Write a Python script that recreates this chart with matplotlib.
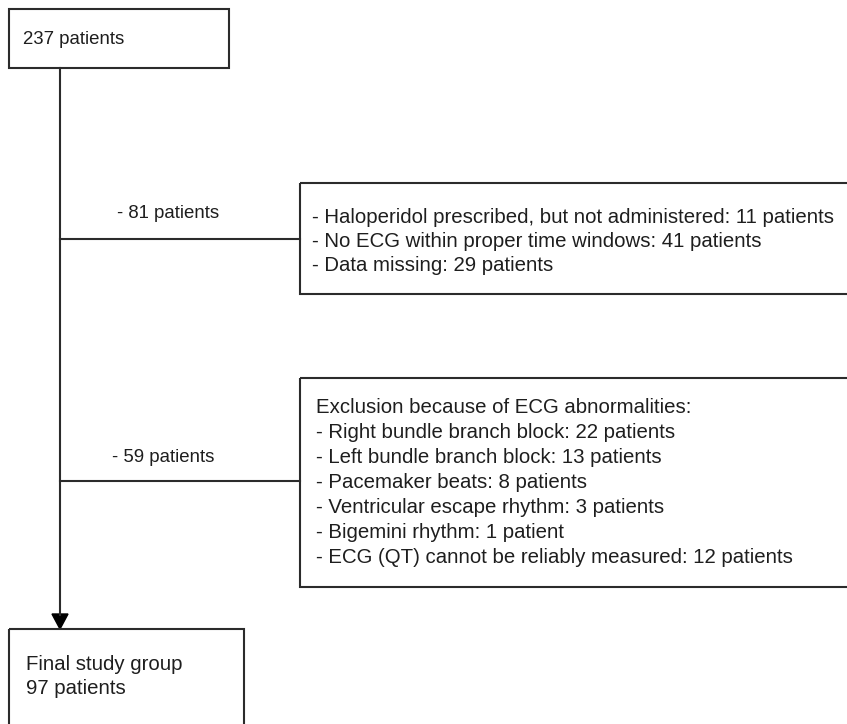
import matplotlib.pyplot as plt
from matplotlib.patches import Rectangle, Polygon

plt.rcParams['font.family'] = ['Liberation Sans', 'DejaVu Sans']

start_label = '237 patients'
final_labels = ['Final study group', '97 patients']
removed_labels = ['- 81 patients', '- 59 patients']
excl1_lines = ['- Haloperidol prescribed, but not administered: 11 patients',
               '- No ECG within proper time windows: 41 patients',
               '- Data missing: 29 patients']
excl2_lines = ['Exclusion because of ECG abnormalities:',
               '- Right bundle branch block: 22 patients',
               '- Left bundle branch block: 13 patients',
               '- Pacemaker beats: 8 patients',
               '- Ventricular escape rhythm: 3 patients',
               '- Bigemini rhythm: 1 patient',
               '- ECG (QT) cannot be reliably measured: 12 patients']

W, H = 847, 724
fig = plt.figure(figsize=(W / 100, H / 100), dpi=100)
ax = fig.add_axes([0, 0, 1, 1])
ax.set_xlim(0, W)
ax.set_ylim(H, 0)
ax.axis('off')

ec = '#2b2b2b'
tc = '#1e1e1e'
fs_small = 13.4
fs = 14.7
lw = 1.5


def box(x0, y0, x1, y1):
    ax.add_patch(Rectangle((x0, y0), x1 - x0, y1 - y0, fill=False,
                           ec=ec, lw=lw, clip_on=False))


def lines(x, yc, items, step):
    # yc is the visual middle of the block; place lines on baselines
    n = len(items)
    for i, s in enumerate(items):
        y = yc + (i - (n - 1) / 2) * step + 7
        ax.text(x, y, s, fontsize=fs, color=tc, ha='left', va='baseline')


# top box
box(9, 9, 229, 68)
ax.text(23, 40, start_label, fontsize=fs_small, color=tc, va='center')

# main vertical line with arrow
spine_x = 60
ax.plot([spine_x, spine_x], [68, 615], color=ec, lw=lw)
ax.add_patch(Polygon([[spine_x - 8, 614], [spine_x + 8, 614], [spine_x, 629]],
                     closed=True, fc='black', ec='black'))

# first exclusion
y1 = 239
ax.plot([spine_x, 300], [y1, y1], color=ec, lw=lw)
ax.text(168, 213, removed_labels[0], fontsize=fs_small, color=tc, ha='center', va='center')
box(300, 183, 860, 294)
lines(312, y1 + 1, excl1_lines, 24)

# second exclusion
y2 = 481
ax.plot([spine_x, 300], [y2, y2], color=ec, lw=lw)
ax.text(163, 458, removed_labels[1], fontsize=fs_small, color=tc, ha='center', va='center')
box(300, 378, 860, 587)
lines(316, y2, excl2_lines, 25)

# final box
box(9, 629, 244, 760)
lines(26, 675, final_labels, 24)

fig.savefig('out.png', dpi=100)
